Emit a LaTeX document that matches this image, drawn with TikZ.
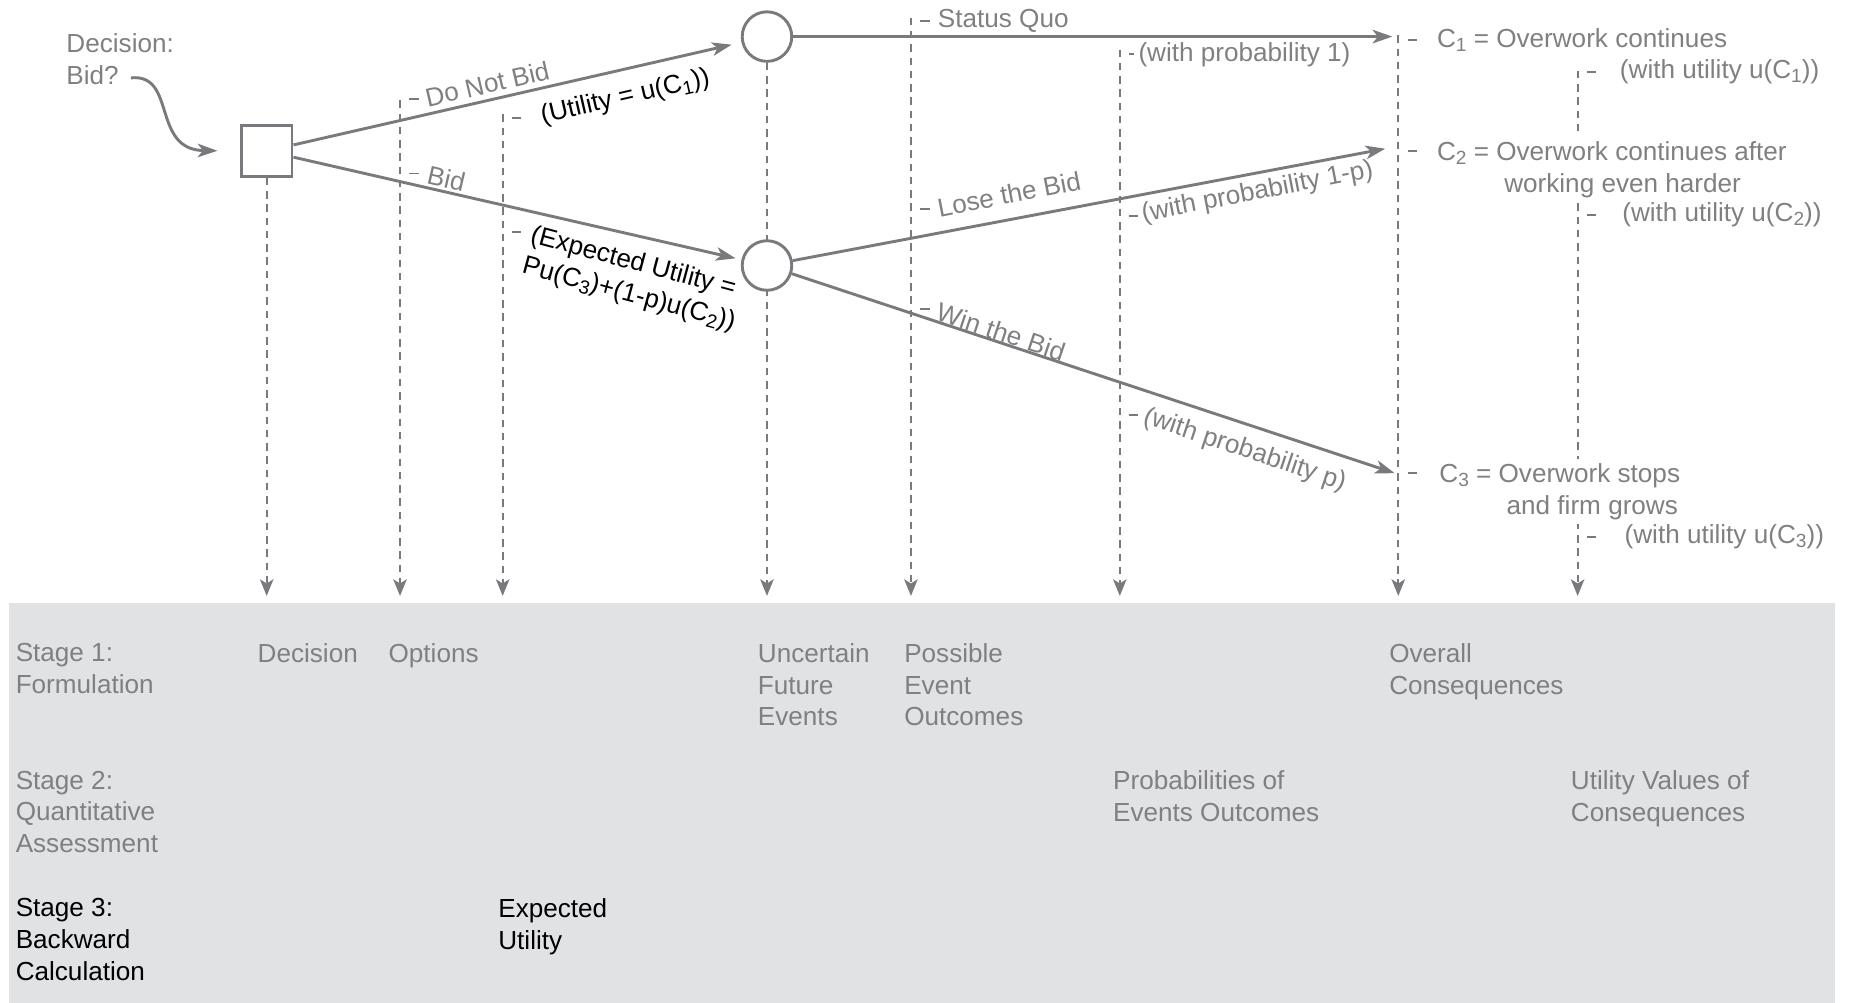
\documentclass[tikz,border=0pt]{standalone}
\usepackage{fontspec}
\setmainfont{Liberation Sans}
\usetikzlibrary{arrows.meta,calc,backgrounds}
\definecolor{linegray}{RGB}{122,122,126}
\definecolor{textgray}{RGB}{128,128,130}
\definecolor{bandgray}{RGB}{225,226,228}
\newcommand{\lowidx}[1]{\raisebox{-0.3ex}{\fontsize{9.2}{10}\selectfont #1}}

\begin{document}
\begin{tikzpicture}[
    x=0.02cm, y=-0.02cm,
    font=\fontsize{12.6}{15.3}\selectfont,
    arr/.style={draw=linegray, line width=1.4pt, -{Stealth[length=9.5pt, width=6.5pt, inset=2.5pt]}},
    guide/.style={draw=linegray, line width=0.9pt, dash pattern=on 3.6pt off 2.8pt, -{Stealth[length=8pt, width=6.5pt, inset=2pt]}},
    leader/.style={draw=linegray, line width=0.9pt, dash pattern=on 4.5pt off 60pt, dash phase=60pt},
    decbox/.style={rectangle, draw=linegray, line width=1.4pt, fill=white, minimum size=0.86cm},
    chance/.style={circle, draw=linegray, line width=1.4pt, fill=white, minimum size=0.84cm},
    lbl/.style={text=textgray, inner sep=2pt, anchor=west},
    outcome/.style={text=textgray, fill=white, inner sep=2pt, align=left, anchor=north west},
    stage/.style={text=textgray, inner sep=0pt, align=left, anchor=north west}
]
\useasboundingbox (0,0) rectangle (1567,850);

% decision and chance nodes
\node[decbox] (dec) at (226,128) {};
\node[chance] (ev1) at (650,31) {};
\node[chance] (ev2) at (650,225) {};
\node[stage] (dq) at (56,28) {Decision:\\Bid?};
\coordinate (bidq) at (111,66);

% branch ends and guide lines
\coordinate (o1) at (1180,31);
\coordinate (o2) at (1174,126);
\coordinate (o3) at (1182,401);
\coordinate (bot) at (0,505);
\foreach \cn/\x/\y in {opt/339/85, eut/426/97, outc/772/15, prob/949/42, cons/1185/30, util/1337/60}
    \coordinate (\cn) at (\x,\y);

% labels on the branches
\node[lbl, rotate=13] (dnb) at (357,84) {Do Not Bid};
\node[lbl, rotate=-13] (bidl) at (359,147) {Bid};
\node[lbl, rotate=13, text=black] (utl) at (455,100) {(Utility = u(C\lowidx{1}))};
\node[lbl, rotate=-15, text=black, align=left, anchor=north west] (eu) at (450,185)
    {(Expected Utility =\\Pu(C\lowidx{3})+(1-p)u(C\lowidx{2}))};
\node[lbl] (sq) at (791,18) {Status Quo};
\node[lbl, rotate=11] (lose) at (791,177) {Lose the Bid};
\node[lbl, rotate=-18.5] (win) at (791,262) {Win the Bid};
\node[lbl] (p1) at (961,46) {(with probability 1)};
\node[lbl, rotate=11] (p1p) at (964,183) {(with probability 1-p)};
\node[lbl, rotate=-18.5] (pp) at (966,352) {(with probability p)};

% consequences
\node[lbl] (c1) at (1214,34) {C\lowidx{1} = Overwork continues};
\node[outcome] (c2) at (1214,116) {C\lowidx{2} = Overwork continues after\\\hspace*{1.14cm}working even harder};
\node[outcome] (c3) at (1216,389) {C\lowidx{3} = Overwork stops\\\hspace*{1.14cm}and firm grows};
\node[lbl] (u1) at (1369,61) {(with utility u(C\lowidx{1}))};
\node[lbl] (u2) at (1371,182) {(with utility u(C\lowidx{2}))};
\node[lbl] (u3) at (1373,455) {(with utility u(C\lowidx{3}))};

% stages
\node[stage] (st1) at (13,545) {Stage 1:\\Formulation};
\node[stage] (dcs) at (218,545) {Decision};
\node[stage] (opts) at (329,545) {Options};
\node[stage] (unc) at (642,545) {Uncertain\\Future\\Events};
\node[stage] (pos) at (766,545) {Possible\\Event\\Outcomes};
\node[stage] (ovr) at (1177,545) {Overall\\Consequences};
\node[stage] (st2) at (13,653) {Stage 2:\\Quantitative\\Assessment};
\node[stage] (prb) at (943,653) {Probabilities of\\Events Outcomes};
\node[stage] (utv) at (1331,653) {Utility Values of\\Consequences};
\node[stage, text=black] (st3) at (13,761) {Stage 3:\\Backward\\Calculation};
\node[stage, text=black] (exu) at (422,761) {Expected\\Utility};

% branches
\draw[arr, shorten >=0.38cm] (bidq) .. controls (150,62) and (128,127) .. (dec.west);
\draw[arr, shorten >=0.17cm] (dec) -- (ev1);
\draw[arr, shorten >=0.1cm] (dec) -- (ev2);
\draw[arr] (ev1) -- (o1);
\draw[arr] (ev2) -- (o2);
\draw[arr] (ev2) -- (o3);

\coordinate (eulead) at ($(eu.north west)!0.22!(eu.south west)$);
\coordinate (c2lead) at ($(c2.north west)+(0,12)$);
\coordinate (c3lead) at ($(c3.north west)+(0,12)$);

\begin{scope}[on background layer]
\fill[bandgray] (8,511) rectangle (1555,850);
\foreach \g in {dec.south, ev1.south, opt, eut, outc, prob, cons, util}
    \draw[guide] (\g) -- (\g |- bot);
\foreach \l/\g in {dnb.west/opt, bidl.west/opt, utl.west/eut, eulead/eut, sq.west/outc, lose.west/outc,
    win.west/outc, p1.west/prob, p1p.west/prob, pp.west/prob, c1.west/cons, c2lead/cons,
    c3lead/cons, u1.west/util, u2.west/util, u3.west/util}
    \draw[leader] (\g |- \l) -- (\l);
\end{scope}
\end{tikzpicture}
\end{document}
